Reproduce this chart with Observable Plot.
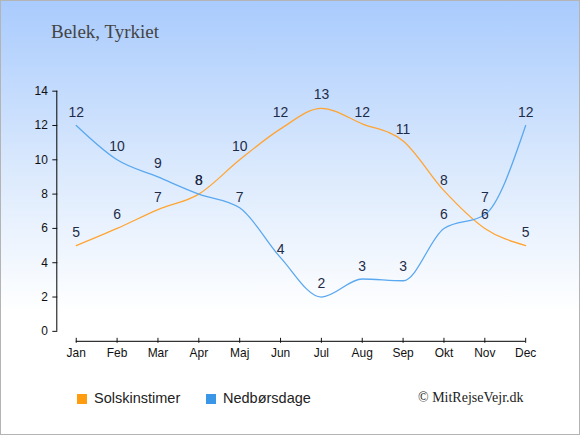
<!DOCTYPE html>
<html><head><meta charset="utf-8">
<script src="https://cdn.jsdelivr.net/npm/d3@7"></script>
<script src="https://cdn.jsdelivr.net/npm/@observablehq/plot@0.6"></script>
<style>
body{margin:0;}
#wrap{position:relative;width:580px;height:435px;box-sizing:border-box;border:1px solid #b4b4b4;
background:linear-gradient(to bottom,#a9cbfd 0%,#dceafd 40%,#ffffff 72%,#ffffff 100%);overflow:hidden;}
#title{position:absolute;left:50px;top:20px;font-family:"Liberation Serif",serif;font-size:19px;color:#444;}
#legend{position:absolute;left:76px;top:389px;font-family:"Liberation Sans",Arial,sans-serif;font-size:14.5px;color:#222;}
.item{position:absolute;white-space:nowrap;top:0;}
.sw{display:inline-block;width:10px;height:10px;vertical-align:-1px;margin-right:7px;}
#copy{position:absolute;left:417px;top:389px;font-family:"Liberation Serif",serif;font-size:14px;color:#222;white-space:nowrap;}
#chart{position:absolute;left:-1px;top:-1px;}
</style></head>
<body>
<div id="wrap">
<div id="chart"></div>
<div id="title">Belek, Tyrkiet</div>
<div id="legend"></div>
<div id="copy">© MitRejseVejr.dk</div>
</div>
<script>
const months = ["Jan","Feb","Mar","Apr","Maj","Jun","Jul","Aug","Sep","Okt","Nov","Dec"];
const sunHours = [5,6,7.1,8,10,11.8,13,12.1,11.1,8.2,6,5];
const rainDays = [12,10,9,8,7.2,4.3,2,3.05,2.95,6,6.8,12];
const yTicks = [0,2,4,6,8,10,12,14];
const seriesNames = ["Solskinstimer","Nedbørsdage"];
const seriesColors = ["#ffa533","#5aa8f0"];
const legendColors = ["#ff9c0f","#3a97e8"];

const sun = months.map((m,i)=>({m, v: sunHours[i]}));
const rain = months.map((m,i)=>({m, v: rainDays[i]}));

const chart = Plot.plot({
  width: 581, height: 436,
  marginLeft: 75, marginRight: 54, marginTop: 91, marginBottom: 104,
  style: {background: "transparent", fontFamily: "'Liberation Sans', Arial, sans-serif", fontSize: "12px", color: "#111", overflow: "visible"},
  x: {type: "point", domain: months, padding: 0, label: null},
  y: {domain: [0,14], label: null},
  marks: [
    Plot.ruleX([months[0]], {y1: 0, y2: 14, dx: -19.5, stroke: "#000"}),
    Plot.axisY({ticks: yTicks, tickSize: 5, tickPadding: 5, dx: -17.5, fontSize: 12, label: null}),
    Plot.ruleY([0], {x1: () => months[0], x2: () => months[months.length-1], dy: 10, stroke: "#000"}),
    Plot.axisX({tickSize: 5, dy: 7, tickPadding: 5, fontSize: 12, label: null}),
    Plot.line(sun, {x: "m", y: "v", stroke: seriesColors[0], strokeWidth: 1.3, curve: "monotone-x"}),
    Plot.line(rain, {x: "m", y: "v", stroke: seriesColors[1], strokeWidth: 1.3, curve: "monotone-x"}),
    Plot.text(sun, {x: "m", y: d => Math.round(d.v), text: d => Math.round(d.v), dy: -13.5, fontSize: 14, fill: "#1e2b48"}),
    Plot.text(rain, {x: "m", y: d => Math.round(d.v), text: d => Math.round(d.v), dy: -13.5, fontSize: 14, fill: "#1e2b48"})
  ]
});
document.getElementById("chart").appendChild(chart);

const lg = document.getElementById("legend");
const lefts = [0, 129];
seriesNames.forEach((n,i)=>{
  const d = document.createElement("div");
  d.className = "item";
  d.style.left = lefts[i] + "px";
  d.innerHTML = `<span class="sw" style="background:${legendColors[i]}"></span>${n}`;
  lg.appendChild(d);
});
</script>
</body></html>
